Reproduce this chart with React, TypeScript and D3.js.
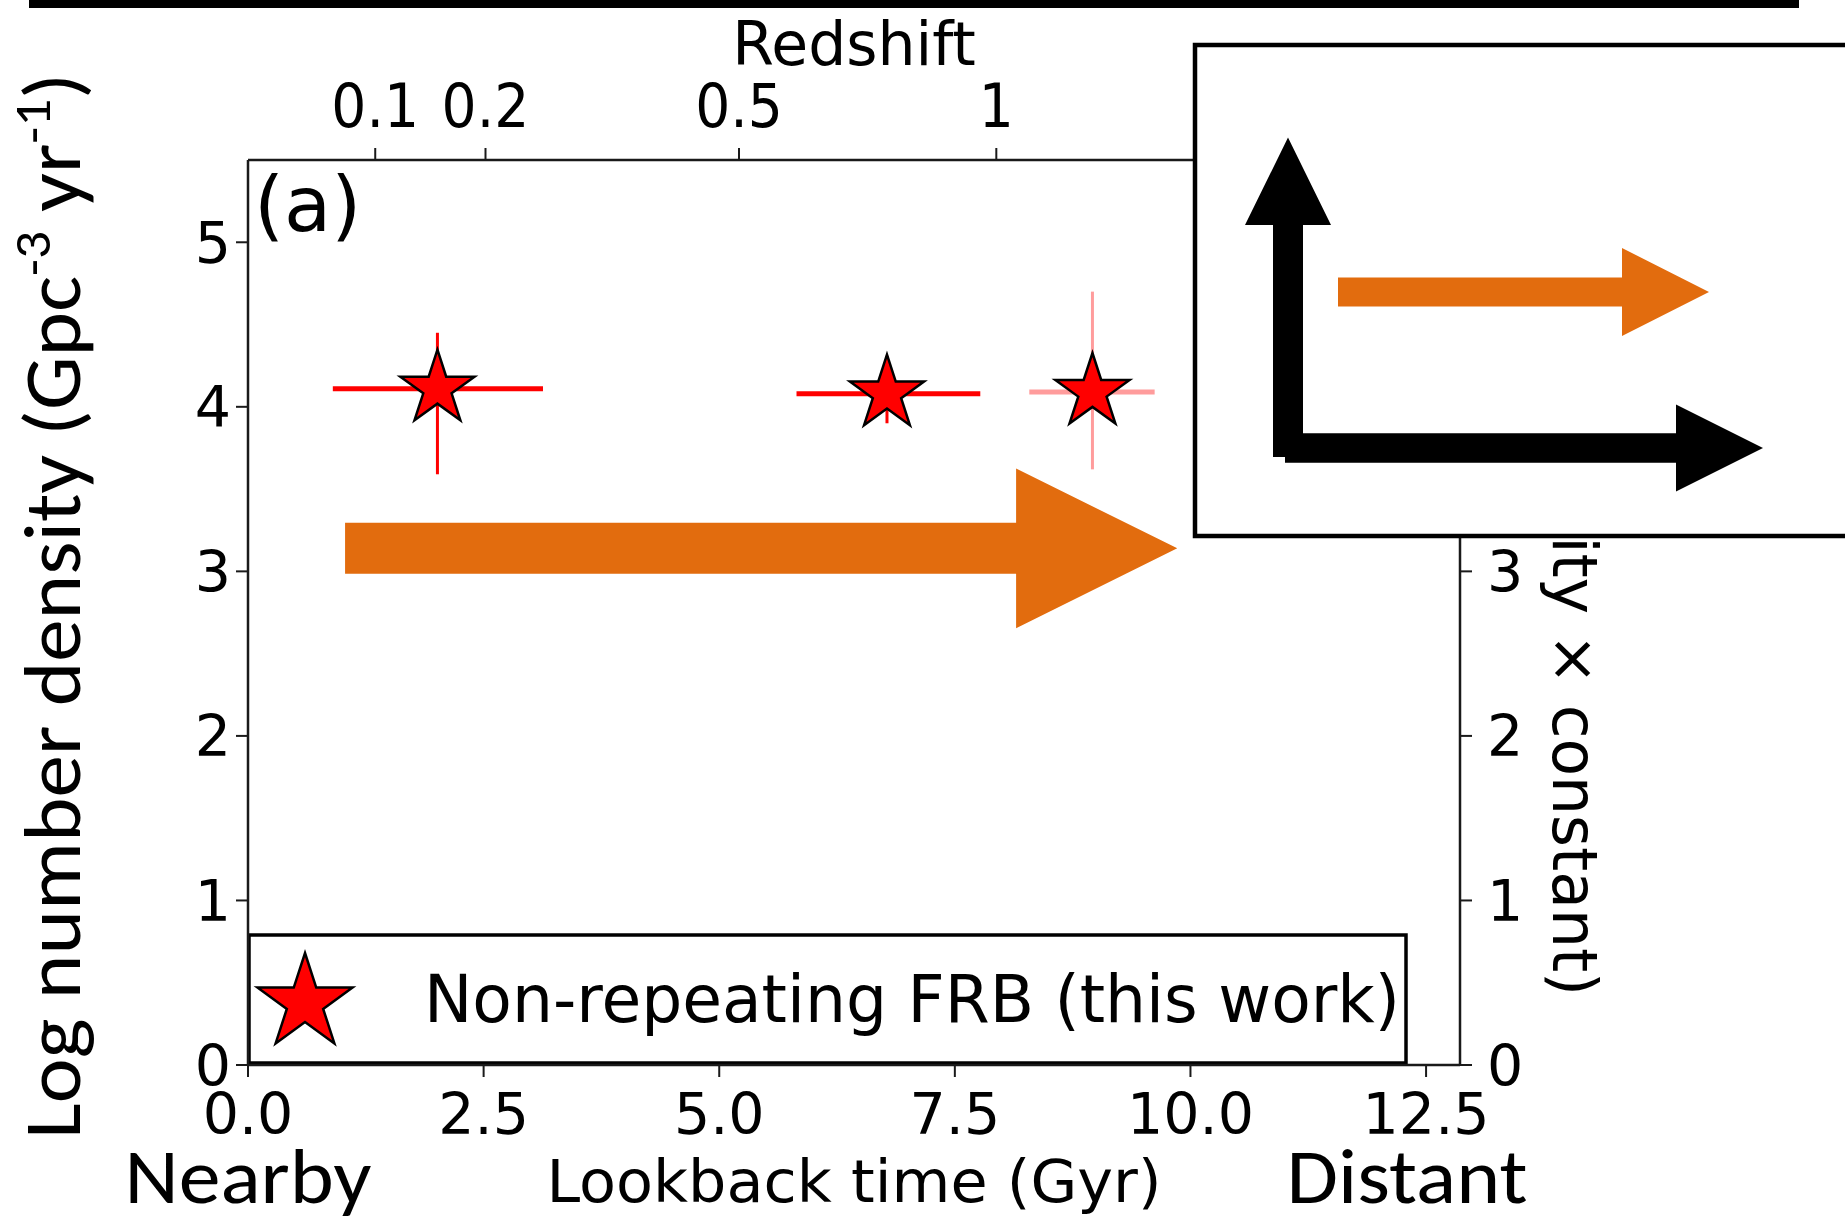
import React from "react";
import * as d3 from "d3";

// ---- data ----
const lookbackGyr = [2.01, 6.78, 8.96];
const logDensity = [4.11, 4.08, 4.09];
const xErrLow = [0.90, 5.82, 8.29];
const xErrHigh = [3.13, 7.77, 9.62];
const yErrLow = [3.59, 3.90, 3.62];
const yErrHigh = [4.45, 4.31, 4.70];
const errColors = ["#ff0000", "#ff0000", "#ff9c9c"];

const xTicks = [0, 2.5, 5, 7.5, 10, 12.5];
const yTicks = [0, 1, 2, 3, 4, 5];
const rightYTicks = [0, 1, 2, 3];
const redshiftLabels = ["0.1", "0.2", "0.5", "1"];
const redshiftLookback = [1.35, 2.52, 5.21, 7.94];

// big orange arrow (data coords: Gyr, log density)
const arrowStartX = 1.03;
const arrowHeadBaseX = 8.15;
const arrowTipX = 9.86;
const arrowY = 3.14;
const arrowShaftHalf = 0.155;
const arrowHeadHalf = 0.485;

const W = 1845;
const H = 1217;
const M = { left: 248, right: 1460, top: 160, bottom: 1065 };

const x = d3.scaleLinear().domain([0, 12.86]).range([M.left, M.right]);
const y = d3.scaleLinear().domain([0, 5.5]).range([M.bottom, M.top]);

const starPath = (R: number) =>
  d3.symbol().type(d3.symbolStar).size((R * R) / 0.8908130915292852)() as string;

const ORANGE = "#e26c0e";
const DJ = "DejaVu Sans, sans-serif";
const CAL = "Carlito, Lato, sans-serif";

function arrowPoints(x0: number, xb: number, xt: number, yc: number, sh: number, hh: number) {
  return [
    [x0, yc - sh],
    [xb, yc - sh],
    [xb, yc - hh],
    [xt, yc],
    [xb, yc + hh],
    [xb, yc + sh],
    [x0, yc + sh],
  ];
}
const pts = (a: number[][]) => a.map((p) => p.join(",")).join(" ");

export default function App() {
  const tick = 12;
  const mainArrow = pts([
    [x(arrowStartX), y(arrowY + arrowShaftHalf)],
    [x(arrowHeadBaseX), y(arrowY + arrowShaftHalf)],
    [x(arrowHeadBaseX), y(arrowY + arrowHeadHalf)],
    [x(arrowTipX), y(arrowY)],
    [x(arrowHeadBaseX), y(arrowY - arrowHeadHalf)],
    [x(arrowHeadBaseX), y(arrowY - arrowShaftHalf)],
    [x(arrowStartX), y(arrowY - arrowShaftHalf)],
  ]);
  const upArrow = pts(arrowPoints(457, 225, 137.5, 1288, 15, 43).map(([a, b]) => [b, a]));

  return (
    <svg width={W} height={H} style={{ position: "absolute", left: 0, top: 0, background: "#fff" }}>
      <rect x={0} y={0} width={W} height={H} fill="#fff" />

      {/* top black bar */}
      <rect x={29} y={0} width={1770} height={8} fill="#000" />

      {/* error bars */}
      {lookbackGyr.map((lx, i) => (
        <g key={"e" + i}>
          <line x1={x(xErrLow[i])} x2={x(xErrHigh[i])} y1={y(logDensity[i])} y2={y(logDensity[i])}
            stroke={errColors[i]} strokeWidth={5} />
          <line x1={x(lx)} x2={x(lx)} y1={y(yErrLow[i])} y2={y(yErrHigh[i])}
            stroke={errColors[i]} strokeWidth={3} />
        </g>
      ))}
      {/* stars */}
      {lookbackGyr.map((lx, i) => (
        <path key={"s" + i} d={starPath(39)} transform={`translate(${x(lx)},${y(logDensity[i])})`}
          fill="#ff0000" stroke="#000" strokeWidth={2.5} strokeLinejoin="miter" />
      ))}

      {/* main orange arrow */}
      <polygon points={mainArrow} fill={ORANGE} />

      {/* (a) */}
      <text x={254} y={231} fontFamily={DJ} fontSize={77} fill="#000">(a)</text>

      {/* legend */}
      <rect x={249} y={935} width={1157} height={128} fill="#fff" stroke="#000" strokeWidth={3.5} />
      <path d={starPath(50)} transform="translate(305,1003)" fill="#ff0000" stroke="#000" strokeWidth={2.5} />
      <text x={424} y={1022} fontFamily={DJ} fontSize={65} textLength={976} lengthAdjust="spacingAndGlyphs"
        fill="#000">Non-repeating FRB (this work)</text>

      {/* spines */}
      <g stroke="#1a1a1a" strokeWidth={2.5} fill="none">
        <line x1={M.left} x2={M.right} y1={M.top} y2={M.top} />
        <line x1={M.left} x2={M.right} y1={M.bottom} y2={M.bottom} />
        <line x1={M.left} x2={M.left} y1={M.top} y2={M.bottom} />
        <line x1={M.right} x2={M.right} y1={M.top} y2={M.bottom} />
      </g>

      {/* bottom axis */}
      {xTicks.map((t) => (
        <g key={"x" + t}>
          <line x1={x(t)} x2={x(t)} y1={M.bottom} y2={M.bottom + tick} stroke="#1a1a1a" strokeWidth={2} />
          <text x={x(t)} y={1134} textAnchor="middle" fontFamily={DJ} fontSize={57} fill="#000">
            {d3.format(".1f")(t)}
          </text>
        </g>
      ))}
      {/* left axis */}
      {yTicks.map((t) => (
        <g key={"y" + t}>
          <line x1={M.left - tick} x2={M.left} y1={y(t)} y2={y(t)} stroke="#1a1a1a" strokeWidth={2} />
          <text x={231} y={y(t)} dy="0.36em" textAnchor="end" fontFamily={DJ} fontSize={57} fill="#000">
            {t}
          </text>
        </g>
      ))}
      {/* right axis */}
      {rightYTicks.map((t) => (
        <g key={"r" + t}>
          <line x1={M.right} x2={M.right + tick} y1={y(t)} y2={y(t)} stroke="#1a1a1a" strokeWidth={2} />
          <text x={1487} y={y(t)} dy="0.36em" textAnchor="start" fontFamily={DJ} fontSize={57} fill="#000">
            {t}
          </text>
        </g>
      ))}
      {/* top redshift axis */}
      {redshiftLookback.map((t, i) => (
        <g key={"z" + i}>
          <line x1={x(t)} x2={x(t)} y1={M.top - tick} y2={M.top} stroke="#1a1a1a" strokeWidth={2} />
          <text x={x(t)} y={127} textAnchor="middle" fontFamily={DJ} fontSize={60} fill="#000"
            transform={`translate(${x(t)},127) scale(0.92,1) translate(${-x(t)},-127)`}>
            {redshiftLabels[i]}
          </text>
        </g>
      ))}
      <text x={(M.left + M.right) / 2} y={65} textAnchor="middle" fontFamily={DJ} fontSize={60} fill="#000">
        Redshift
      </text>
      <text x={(M.left + M.right) / 2} y={1202} textAnchor="middle" fontFamily={DJ} fontSize={59}
        textLength={615} lengthAdjust="spacingAndGlyphs" fill="#000">
        Lookback time (Gyr)
      </text>

      {/* right axis label (partly hidden by inset) */}
      <text transform="translate(1553,996) rotate(90)" textAnchor="end" fontFamily={DJ} fontSize={61.5} fill="#000">
        (SFR density × constant)
      </text>

      {/* left annotation label */}
      <text transform="translate(80,606) rotate(-90)" textAnchor="middle" fontFamily={CAL} fontSize={80}
        textLength={1066} lengthAdjust="spacingAndGlyphs" fill="#000">
        Log number density (Gpc
        <tspan dy={-30} fontSize={52}>-3</tspan>
        <tspan dy={30}> yr</tspan>
        <tspan dy={-30} fontSize={52}>-1</tspan>
        <tspan dy={30}>)</tspan>
      </text>

      <text x={248} y={1203} textAnchor="middle" fontFamily={CAL} fontSize={78} textLength={247}
        lengthAdjust="spacingAndGlyphs" fill="#000">Nearby</text>
      <text x={1407} y={1203} textAnchor="middle" fontFamily={CAL} fontSize={78} textLength={241}
        lengthAdjust="spacingAndGlyphs" fill="#000">Distant</text>

      {/* inset schematic */}
      <rect x={1195} y={45} width={700} height={491} fill="#fff" stroke="#000" strokeWidth={4.5} />
      <polygon points={upArrow} fill="#000" />
      <polygon points={pts(arrowPoints(1285, 1676, 1763, 448, 14.75, 43.6))} fill="#000" />
      <polygon points={pts(arrowPoints(1338, 1622, 1709, 292, 14.5, 44))} fill={ORANGE} />
    </svg>
  );
}
